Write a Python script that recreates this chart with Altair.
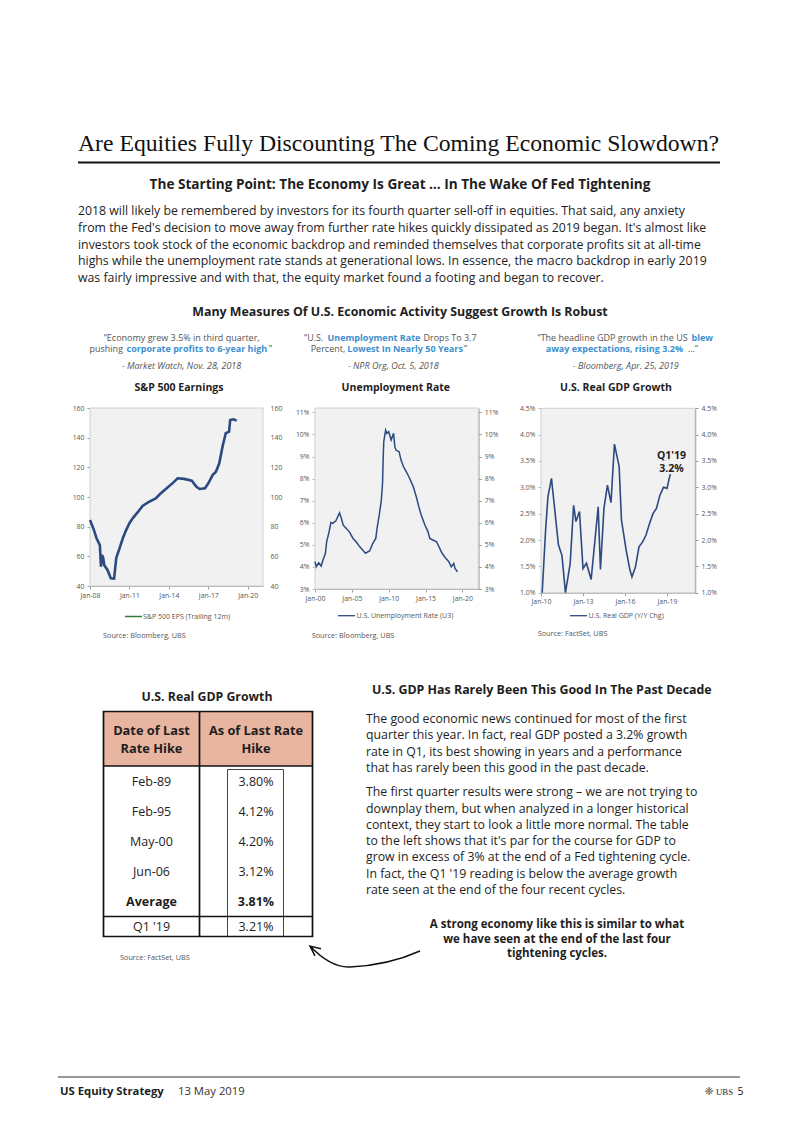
import altair as alt
import pandas as pd

# ----------------------------------------------------------------- data
sp_dates = ["2008-01-01", "2008-04-01", "2008-07-01", "2008-10-01", "2008-11-01", "2008-12-01",
            "2009-01-01", "2009-02-01", "2009-05-01", "2009-08-01", "2009-11-01", "2009-12-01",
            "2010-01-01", "2010-04-01", "2010-07-01", "2010-10-01", "2011-01-01", "2011-04-01",
            "2011-09-01", "2012-01-01", "2012-06-01", "2013-01-01", "2013-05-01", "2013-11-01",
            "2014-05-01", "2014-09-01", "2015-03-01", "2015-10-01", "2016-02-01", "2016-05-01",
            "2016-10-01", "2017-01-01", "2017-05-01", "2017-08-01", "2017-11-01", "2018-02-01",
            "2018-05-01", "2018-08-01", "2018-09-01", "2018-12-01", "2019-03-01"]
sp_eps = [84.5, 79, 72.2, 67.6, 53, 61, 59, 54, 50.8, 45.2, 45, 52, 59, 65.4, 72.2, 77.7, 82.3,
          85.6, 90.1, 94, 96.4, 99.1, 102, 105.9, 109.7, 112.6, 112.2, 111, 107, 105.4, 105.9,
          109.2, 114.8, 117, 122.7, 134, 143, 144, 151.9, 152.4, 151.5]

ur_dates = ["2000-01-01", "2000-03-01", "2000-07-01", "2000-11-01", "2001-02-01", "2001-06-01",
            "2001-08-01", "2001-12-01", "2002-03-01", "2002-06-01", "2002-11-01", "2003-05-01",
            "2003-08-01", "2003-11-01", "2004-04-01", "2004-09-01", "2005-03-01", "2005-08-01",
            "2006-02-01", "2006-07-01", "2006-11-01", "2007-06-01", "2007-11-01", "2008-04-01",
            "2008-06-01", "2008-10-01", "2009-01-01", "2009-03-01", "2009-04-01", "2009-05-01",
            "2009-08-01", "2009-10-01", "2010-01-01", "2010-05-01", "2010-09-01", "2010-11-01",
            "2011-01-01", "2011-06-01", "2011-09-01", "2012-01-01", "2012-06-01", "2012-11-01",
            "2013-05-01", "2013-10-01", "2014-02-01", "2014-06-01", "2014-12-01", "2015-05-01",
            "2015-08-01", "2016-01-01", "2016-07-01", "2016-11-01", "2017-04-01", "2017-10-01",
            "2018-03-01", "2018-07-01", "2018-11-01", "2019-01-01", "2019-05-01"]
ur_rate = [4.24, 4.01, 4.19, 4.04, 4.31, 4.62, 5.14, 5.6, 6.02, 5.97, 6.09, 6.45, 6.19, 5.89,
           5.74, 5.59, 5.29, 5.14, 4.91, 4.76, 4.62, 4.72, 5.06, 5.29, 5.74, 6.42, 7.03, 7.78,
           8.85, 9.67, 10.2, 10.05, 10.13, 9.75, 10.05, 9.45, 9.29, 9.22, 8.85, 8.55, 8.3, 8.02,
           7.64, 7.18, 6.73, 6.35, 5.9, 5.6, 5.29, 5.22, 5.14, 4.91, 4.62, 4.39, 4.24, 4.01,
           4.16, 3.93, 3.78]

gdp_dates = ["2010-02-01", "2010-05-01", "2010-07-01", "2010-10-01", "2011-04-01", "2011-07-01",
             "2011-10-01", "2012-02-01", "2012-05-01", "2012-07-01", "2012-10-01", "2013-01-01",
             "2013-04-01", "2013-08-01", "2014-02-01", "2014-04-01", "2014-07-01", "2014-10-01",
             "2015-01-01", "2015-04-01", "2015-08-01", "2015-10-01", "2016-02-01", "2016-05-01",
             "2016-07-01", "2016-10-01", "2017-01-01", "2017-04-01", "2017-07-01", "2017-10-01",
             "2018-01-01", "2018-04-01", "2018-07-01", "2018-10-01", "2019-01-01", "2019-03-01",
             "2019-04-01"]
gdp_yoy = [0.9, 2.19, 2.82, 3.17, 1.91, 1.71, 0.95, 1.55, 2.66, 2.35, 2.54, 1.46, 1.56, 1.25,
           2.63, 1.44, 2.6, 3.04, 2.71, 3.82, 3.4, 2.38, 1.81, 1.46, 1.3, 1.49, 1.87, 1.96, 2.09,
           2.31, 2.5, 2.6, 2.85, 3.0, 2.98, 3.17, 3.25]

hike_dates = ["Feb-89", "Feb-95", "May-00", "Jun-06"]
hike_gdp = [3.80, 4.12, 4.20, 3.12]
avg_label = "Average"
avg_gdp = 3.81
q1_label = "Q1 '19"
q1_gdp = 3.21

title_text = "Are Equities Fully Discounting The Coming Economic Slowdown?"
subtitle_text = "The Starting Point: The Economy Is Great \u2026 In The Wake Of Fed Tightening"
top_para = [
    "2018 will likely be remembered by investors for its fourth quarter sell-off in equities. That said, any anxiety",
    "from the Fed's decision to move away from further rate hikes quickly dissipated as 2019 began. It's almost like",
    "investors took stock of the economic backdrop and reminded themselves that corporate profits sit at all-time",
    "highs while the unemployment rate stands at generational lows. In essence, the macro backdrop in early 2019",
    "was fairly impressive and with that, the equity market found a footing and began to recover.",
]
section_text = "Many Measures Of U.S. Economic Activity Suggest Growth Is Robust"
right_head = "U.S. GDP Has Rarely Been This Good In The Past Decade"
right_para1 = [
    "The good economic news continued for most of the first",
    "quarter this year. In fact, real GDP posted a 3.2% growth",
    "rate in Q1, its best showing in years and a performance",
    "that has rarely been this good in the past decade.",
]
right_para2 = [
    "The first quarter results were strong \u2013 we are not trying to",
    "downplay them, but when analyzed in a longer historical",
    "context, they start to look a little more normal. The table",
    "to the left shows that it's par for the course for GDP to",
    "grow in excess of 3% at the end of a Fed tightening cycle.",
    "In fact, the Q1 '19 reading is below the average growth",
    "rate seen at the end of the four recent cycles.",
]
callout = ["A strong economy like this is similar to what",
           "we have seen at the end of the last four",
           "tightening cycles."]

# ----------------------------------------------------------------- style
W, H = 786, 1105
SANS = "Open Sans"
SERIF = "Liberation Serif"
INK = "#1e1e1e"
GREY = "#555555"
BLUE = "#3b8fd0"
NAVY = "#2c4a80"
GREEN = "#2e7d32"
PANEL = "#f1f1f1"
FRAME = "#d0d0d0"
AXC = "#a0a0a0"
SALMON = "#e8b5a1"
BODY = 12.3
QUOTE = 9.0


def X(v):
    return v - 8


def Y(v):
    return v - 8


layers = []


def text(s, x, y, size=BODY, weight="normal", color=INK, align="left", font=SANS, style="normal"):
    layers.append(
        alt.Chart().mark_text(text=s, font=font, fontSize=size, fontWeight=weight,
                              fontStyle=style, color=color, align=align, baseline="middle")
        .encode(x=alt.value(X(x)), y=alt.value(Y(y))))


def hline(x0, x1, y, color=INK, width=1.0):
    layers.append(alt.Chart().mark_rule(color=color, strokeWidth=width)
                  .encode(x=alt.value(X(x0)), x2=alt.value(X(x1)), y=alt.value(Y(y))))


def vline(x, y0, y1, color=INK, width=1.0):
    layers.append(alt.Chart().mark_rule(color=color, strokeWidth=width)
                  .encode(x=alt.value(X(x)), y=alt.value(Y(y0)), y2=alt.value(Y(y1))))


def box(x0, y0, x1, y1, fill=None, stroke=None, width=1.0):
    kw = {}
    if fill:
        kw["fill"] = fill
    else:
        kw["fillOpacity"] = 0
    if stroke:
        kw["stroke"] = stroke
        kw["strokeWidth"] = width
    layers.append(alt.Chart().mark_rect(**kw).encode(
        x=alt.value(X(x0)), x2=alt.value(X(x1)), y=alt.value(Y(y0)), y2=alt.value(Y(y1))))


def dt(y, m=1):
    return alt.DateTime(year=y, month=m, date=1, utc=True)


def axis(orient, offset, values, expr=None, ticks=True, domain=True, pad=3,
         dcolor=AXC, dwidth=1.0):
    kw = dict(orient=orient, offset=offset, values=values, title=None, grid=False,
              labelFont=SANS, labelFontSize=6.9, labelColor=GREY, domain=domain,
              ticks=ticks, labelPadding=pad, labelFlush=False, labelOverlap=False)
    if domain:
        kw.update(domainColor=dcolor, domainWidth=dwidth)
    if ticks:
        kw.update(tickColor=dcolor, tickSize=3)
    if expr:
        kw["labelExpr"] = expr
    return alt.Axis(**kw)


def mini_chart(dates, vals, xdom, xr, ydom, yr, xticks, yvals, expr, lw,
               right_ticks=True, right_dom=True, left_dcolor=AXC, right_dcolor=AXC,
               right_dwidth=1.0, clamp=False):
    df = pd.DataFrame({"date": dates, "value": vals})

    def xs():
        return alt.Scale(type="utc", domain=xdom, range=[X(xr[0]), X(xr[1])])

    def ys():
        return alt.Scale(domain=ydom, range=[Y(yr[0]), Y(yr[1])], zero=False, nice=False,
                         clamp=clamp)

    # panel background, drawn through the chart's own scales
    layers.append(alt.Chart().mark_rect(fill=PANEL, stroke=FRAME, strokeWidth=1).encode(
        x=alt.X(datum=xdom[0], type="temporal", scale=xs(), axis=None),
        x2=alt.X2(datum=xdom[1]),
        y=alt.Y(datum=ydom[0], type="quantitative", scale=ys(), axis=None),
        y2=alt.Y2(datum=ydom[1])))
    # series with bottom and left axes
    layers.append(alt.Chart(df).mark_line(color=NAVY, strokeWidth=lw).encode(
        x=alt.X("date:T", scale=xs(),
                axis=axis("bottom", Y(yr[0]) - H, xticks,
                          expr="utcFormat(datum.value, '%b-%y')")),
        y=alt.Y("value:Q", scale=ys(),
                axis=axis("left", -X(xr[0]), yvals, expr=expr, dcolor=left_dcolor))))
    # duplicate right axis
    layers.append(alt.Chart(df).mark_line(opacity=0).encode(
        x=alt.X("date:T", scale=xs(), axis=None),
        y=alt.Y("value:Q", scale=ys(),
                axis=axis("right", X(xr[1]) - W, yvals, expr=expr, ticks=right_ticks,
                          domain=right_dom, pad=3 if right_ticks else 7,
                          dcolor=right_dcolor, dwidth=right_dwidth))))


# ----------------------------------------------------------------- header
text(title_text, 78, 144, size=23.7, font=SERIF, color="#111111")
hline(78, 720, 162.5, color="#111111", width=1.8)
text(subtitle_text, 400, 185, size=13.6, weight="bold", align="center")
for i, line in enumerate(top_para):
    text(line, 78, 211 + i * 16.8)
text(section_text, 400, 312, size=12.4, weight="bold", align="center")

# ----------------------------------------------------------------- chart 1
text("\u201cEconomy grew 3.5% in third quarter,", 181.7, 338.3, size=QUOTE, color=GREY, align="center")
text("pushing", 89.5, 349.3, size=QUOTE, color=GREY)
text("corporate profits to 6-year high", 126.5, 349.3, size=QUOTE, color=BLUE, weight="bold")
text("\u201d", 269, 349.3, size=QUOTE, color=GREY)
text("- Market Watch, Nov. 28, 2018", 181.5, 365.7, size=QUOTE, color=GREY, align="center", style="italic")
text("S&P 500 Earnings", 179, 388, size=10.5, weight="bold", align="center")
mini_chart(sp_dates, sp_eps, [dt(2008), dt(2021, 3)], [90, 263], [40, 160], [586, 408],
           [dt(2008), dt(2011), dt(2014), dt(2017), dt(2020)], [40, 60, 80, 100, 120, 140, 160],
           None, 2.6, right_ticks=False, right_dom=False)
hline(125, 142, 616.5, color=GREEN, width=1.5)
text("S&P 500 EPS (Trailing 12m)", 143, 616.5, size=7, color=GREY)
text("Source: Bloomberg, UBS", 103, 635.5, size=7.3, color=GREY)

# ----------------------------------------------------------------- chart 2
text("\u201cU.S.", 304, 338.3, size=QUOTE, color=GREY)
text("Unemployment Rate", 327.5, 338.3, size=QUOTE, color=BLUE, weight="bold")
text("Drops To 3.7", 423.5, 338.3, size=QUOTE, color=GREY)
text("Percent,", 310.7, 349.3, size=QUOTE, color=GREY)
text("Lowest In Nearly 50 Years", 347.3, 349.3, size=QUOTE, color=BLUE, weight="bold")
text("\u201d", 464, 349.3, size=QUOTE, color=GREY)
text("- NPR Org, Oct. 5, 2018", 393.3, 365.7, size=QUOTE, color=GREY, align="center", style="italic")
text("Unemployment Rate", 395.8, 388, size=10.5, weight="bold", align="center")
mini_chart(ur_dates, ur_rate, [dt(2000), dt(2022, 3)], [315, 478.3], [3, 11.2], [589, 408],
           [dt(2000), dt(2005), dt(2010), dt(2015), dt(2020)], [3, 4, 5, 6, 7, 8, 9, 10, 11],
           "datum.value + '%'", 1.5, left_dcolor="#b8b8b8", right_dcolor="#9a9a9a",
           right_dwidth=1.5)
hline(338, 355, 615.7, color=NAVY, width=1.3)
text("U.S. Unemployment Rate (U3)", 356.5, 615.7, size=7, color=GREY)
text("Source: Bloomberg, UBS", 311.7, 635.5, size=7.3, color=GREY)

# ----------------------------------------------------------------- chart 3
text("\u201cThe headline GDP growth in the US", 537.5, 338.3, size=QUOTE, color=GREY)
text("blew", 691.5, 338.3, size=QUOTE, color=BLUE, weight="bold")
text("away expectations, rising 3.2%", 545.7, 349.3, size=QUOTE, color=BLUE, weight="bold")
text("\u2026\u201d", 688, 349.3, size=QUOTE, color=GREY)
text("- Bloomberg, Apr. 25, 2019", 625.8, 365.7, size=QUOTE, color=GREY, align="center", style="italic")
text("U.S. Real GDP Growth", 616, 388, size=10.5, weight="bold", align="center")
mini_chart(gdp_dates, gdp_yoy, [dt(2010), dt(2021)], [541, 695], [1.0, 4.5], [592.7, 408.3],
           [dt(2010), dt(2013), dt(2016), dt(2019)], [1.0, 1.5, 2.0, 2.5, 3.0, 3.5, 4.0, 4.5],
           "format(datum.value, '.1f') + '%'", 1.6, left_dcolor="#b8b8b8",
           right_dcolor="#9a9a9a", right_dwidth=1.5, clamp=True)
text("Q1'19", 671.5, 455.5, size=10.5, weight="bold", align="center")
text("3.2%", 671.5, 468.5, size=10.5, weight="bold", align="center")
hline(570, 587, 615.7, color=NAVY, width=1.3)
text("U.S. Real GDP (Y/Y Chg)", 588.5, 615.7, size=7, color=GREY)
text("Source: FactSet, UBS", 537.7, 634, size=7.3, color=GREY)

# ----------------------------------------------------------------- table
text("U.S. Real GDP Growth", 207, 697, size=12.3, weight="bold", align="center")
box(103.5, 711.5, 312.5, 766, fill=SALMON)
box(227.5, 769.5, 283.5, 936.5, stroke="#444444", width=1.0)
box(103.5, 711.5, 312.5, 936.5, stroke="#111111", width=1.7)
hline(103.5, 312.5, 766, color="#111111", width=1.7)
vline(199.5, 711.5, 936.5, color="#111111", width=1.7)
hline(103.5, 312.5, 916.5, color="#111111", width=1.4)
text("Date of Last", 151.5, 730.7, size=12.8, weight="bold", align="center")
text("Rate Hike", 151.5, 749.3, size=12.8, weight="bold", align="center")
text("As of Last Rate", 256, 730.7, size=12.8, weight="bold", align="center")
text("Hike", 256, 749.3, size=12.8, weight="bold", align="center")

row_order = hike_dates + [avg_label]
tbl = pd.DataFrame({"row": hike_dates, "gdp": hike_gdp})
avg_df = pd.DataFrame({"row": [avg_label], "gdp": [avg_gdp]})


def row_scale():
    return alt.Scale(type="point", domain=row_order, range=[Y(781.7), Y(901.7)], padding=0)


for frame, weight in ((tbl, "normal"), (avg_df, "bold")):
    layers.append(alt.Chart(frame).mark_text(font=SANS, fontSize=12.5, fontWeight=weight,
                                             color=INK, align="center", baseline="middle")
                  .encode(x=alt.value(X(151.5)),
                          y=alt.Y("row:N", scale=row_scale(), axis=None),
                          text="row:N"))
    layers.append(alt.Chart(frame).transform_calculate(lbl="format(datum.gdp, '.2f') + '%'")
                  .mark_text(font=SANS, fontSize=12.5, fontWeight=weight, color=INK,
                             align="center", baseline="middle")
                  .encode(x=alt.value(X(256)),
                          y=alt.Y("row:N", scale=row_scale(), axis=None),
                          text="lbl:N"))
text(q1_label, 151.5, 926.7, size=12.5, align="center")
text(f"{q1_gdp:.2f}%", 256, 926.7, size=12.5, align="center")
text("Source: FactSet, UBS", 120, 958.3, size=7.3, color=GREY)

# ----------------------------------------------------------------- right column
text(right_head, 372, 690, size=12.4, weight="bold")
for i, line in enumerate(right_para1):
    text(line, 366, 719 + i * 16.3)
for i, line in enumerate(right_para2):
    text(line, 366, 792.2 + i * 16.3)
for i, line in enumerate(callout):
    text(line, 557, 925 + i * 14.5, size=11.5, weight="bold", align="center")

# curved arrow from the callout to the table
arrow_path = ("M -1 -0.19 Q -0.62 0.21 -0.27 0.19 Q 0.42 0.16 1 -0.1 "
              "M -0.91 -0.01 L -1 -0.19 L -0.8 -0.14")
layers.append(alt.Chart().mark_point(shape=arrow_path, filled=False, stroke="#111111",
                                     strokeWidth=1.5, size=110 * 110, opacity=1)
              .encode(x=alt.value(X(365)), y=alt.value(Y(956.5))))

# ----------------------------------------------------------------- footer
hline(58, 740, 1077, color="#333333", width=1.0)
text("US Equity Strategy", 60, 1092, size=11.3, weight="bold")
text("13 May 2019", 178, 1092, size=11.3, color="#333333")
text("\u2748", 709, 1092, size=11, font="DejaVu Sans", color="#333333", align="center")
text("UBS", 716, 1092, size=8.8, font=SERIF, color="#222222")
text("5", 737.5, 1092, size=10.5, font=SANS, color="#222222")

chart = (alt.layer(*layers)
         .resolve_scale(x="independent", y="independent")
         .properties(width=W, height=H, padding=0,
                     autosize=alt.AutoSizeParams(type="none"))
         .configure_view(stroke=None))

chart.save("out.html", embed_options={"renderer": "svg", "actions": False})
